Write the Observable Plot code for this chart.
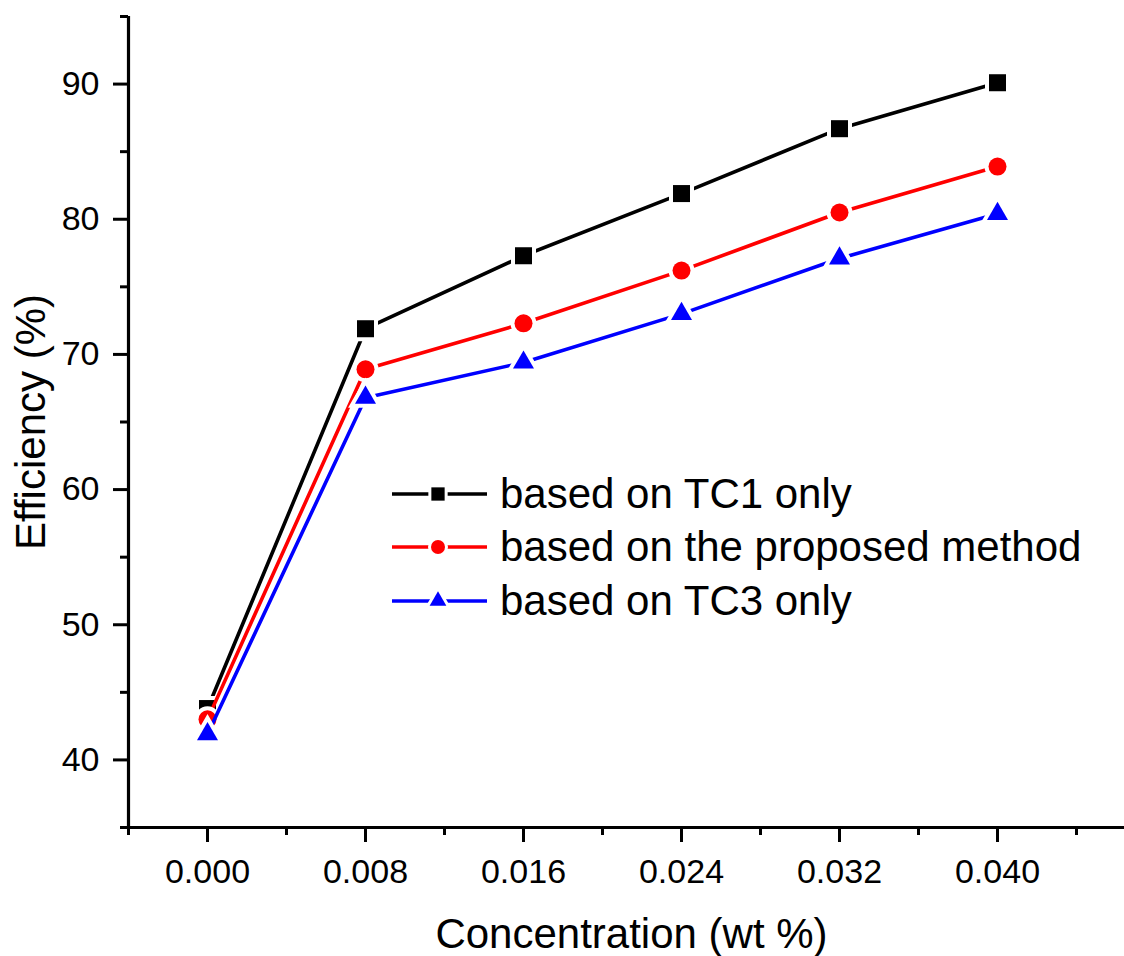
<!DOCTYPE html>
<html>
<head>
<meta charset="utf-8">
<script src="https://cdn.jsdelivr.net/npm/d3@7"></script>
<script src="https://cdn.jsdelivr.net/npm/@observablehq/plot@0.6"></script>
<style>
  html, body { margin: 0; padding: 0; background: #fff; }
  #wrap { position: relative; width: 1124px; height: 956px; overflow: hidden; }
  #legend { position: absolute; left: 388px; top: 467px; font-family: "Liberation Sans", Arial, sans-serif; font-size: 42px; color: #000; }
  .row { display: flex; align-items: center; height: 53.5px; }
  .row svg { margin-right: 10px; }
</style>
</head>
<body>
<div id="wrap"><div id="chart"></div><div id="legend"></div></div>
<script>
// ---- data ----
const concentration = [0, 0.008, 0.016, 0.024, 0.032, 0.040];
const tc1Only = [43.8, 71.9, 77.3, 81.9, 86.7, 90.1];
const proposedMethod = [43.0, 68.9, 72.3, 76.2, 80.5, 83.9];
const tc3Only = [41.9, 66.8, 69.4, 73.0, 77.1, 80.4];
const seriesNames = ["based on TC1 only", "based on the proposed method", "based on TC3 only"];
const seriesColors = ["#000000", "#ff0000", "#0000ff"];
const seriesSymbols = ["square", "circle", "triangle"];
const seriesR = [9.6, 9, 7.8];
const xMajorTicks = [0, 0.008, 0.016, 0.024, 0.032, 0.040];
const xMinorTicks = [-0.004, 0.004, 0.012, 0.020, 0.028, 0.036, 0.044];
const yMajorTicks = [40, 50, 60, 70, 80, 90];
const yMinorTicks = [35, 45, 55, 65, 75, 85, 95];

const seriesValues = [tc1Only, proposedMethod, tc3Only];
const rows = [];
seriesValues.forEach((vals, s) => vals.forEach((v, i) => rows.push({series: seriesNames[s], x: concentration[i], y: v})));

const marks = [];
seriesNames.forEach((name, s) => {
  const d = rows.filter(r => r.series === name);
  marks.push(Plot.line(d, {x: "x", y: "y", stroke: seriesColors[s], strokeWidth: 3.6}));
  marks.push(Plot.dot(d, {x: "x", y: "y", symbol: () => seriesSymbols[s], r: seriesR[s], fill: seriesColors[s], stroke: "white", strokeWidth: 8, paintOrder: "stroke"}));
});

const chart = Plot.plot({
  width: 1124,
  height: 956,
  marginLeft: 128,
  marginRight: 0,
  marginTop: 16,
  marginBottom: 129,
  style: {fontFamily: "'Liberation Sans', Arial, sans-serif", fontSize: "34px", color: "#000", background: "#fff"},
  x: {domain: [-0.004, 0.04643]},
  y: {domain: [35, 95]},
  symbol: {type: "identity"},
  marks: [
    ...marks,
    Plot.ruleY([35], {stroke: "#000", strokeWidth: 3.2}),
    Plot.ruleX([-0.004], {stroke: "#000", strokeWidth: 3.2}),
    Plot.axisX(xMajorTicks, {tickSize: 15, tickPadding: 16, strokeWidth: 3, tickFormat: d3.format(".3f"), label: null, fontSize: 34}),
    Plot.axisX(xMinorTicks, {tickSize: 8, strokeWidth: 3, tickFormat: () => "", label: null}),
    Plot.axisY(yMajorTicks, {tickSize: 15, tickPadding: 14, strokeWidth: 3, label: null, fontSize: 34}),
    Plot.axisY(yMinorTicks, {tickSize: 8, strokeWidth: 3, tickFormat: () => "", label: null}),
    Plot.text(["Concentration (wt %)"], {frameAnchor: "bottom", dx: 5, dy: 107, fontSize: 42, lineAnchor: "middle", textAnchor: "middle", fill: "#000"}),
    Plot.text(["Efficiency (%)"], {frameAnchor: "left", dx: -97, rotate: -90, fontSize: 42, lineAnchor: "middle", textAnchor: "middle", fill: "#000"})
  ]
});
document.getElementById("chart").appendChild(chart);

// legend
const legend = d3.select("#legend");
seriesNames.forEach((name, s) => {
  const row = legend.append("div").attr("class", "row");
  const svg = row.append("svg").attr("width", 102).attr("height", 30);
  svg.append("line").attr("x1", 4).attr("x2", 99).attr("y1", 15).attr("y2", 15)
    .attr("stroke", seriesColors[s]).attr("stroke-width", 3.6);
  const sym = {square: d3.symbolSquare, circle: d3.symbolCircle, triangle: d3.symbolTriangle}[seriesSymbols[s]];
  const rr = [7.5, 7, 6.2][s];
  svg.append("path").attr("transform", "translate(50,15)")
    .attr("d", d3.symbol(sym, Math.PI * rr * rr)())
    .attr("fill", seriesColors[s]).attr("stroke", "white").attr("stroke-width", 6).attr("paint-order", "stroke");
  row.append("span").text(name);
});
</script>
</body>
</html>
